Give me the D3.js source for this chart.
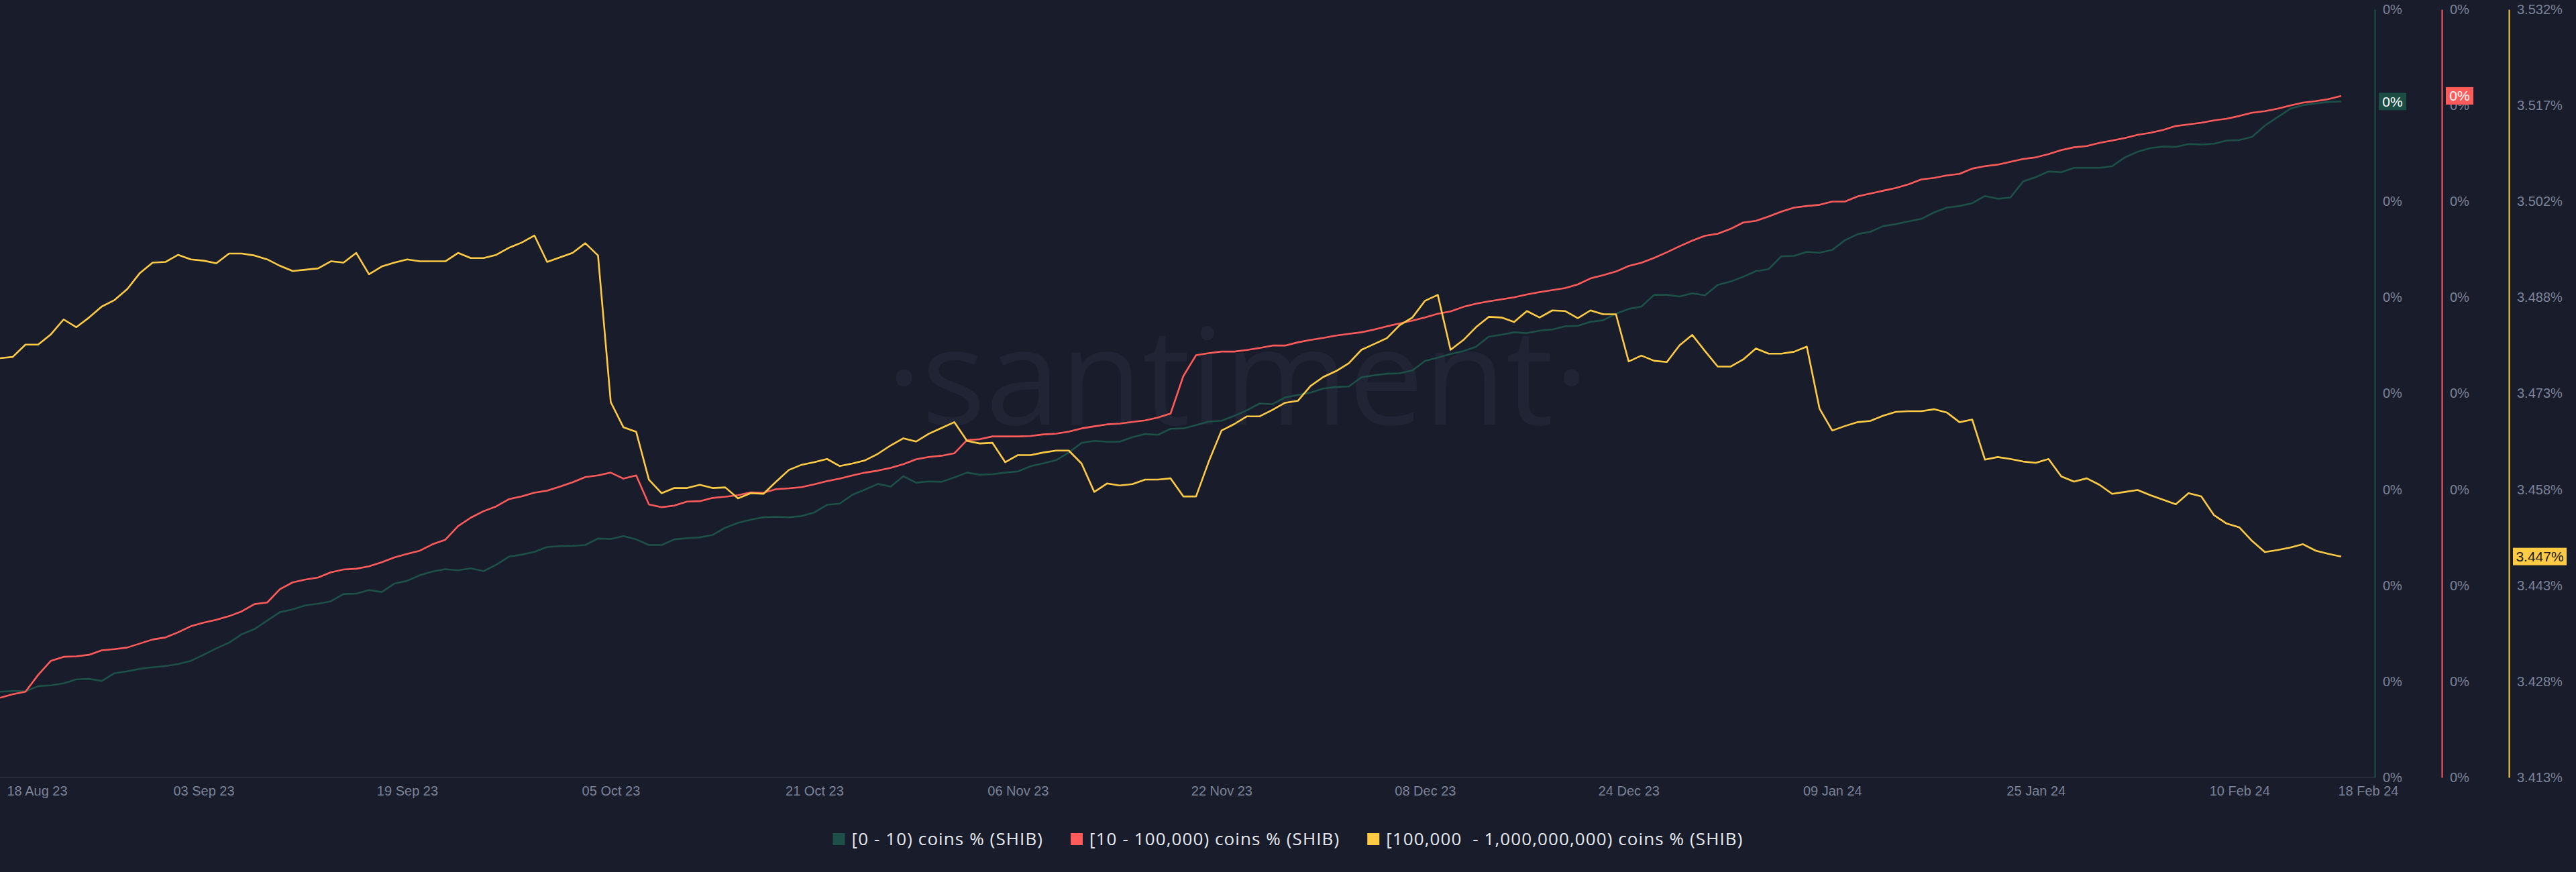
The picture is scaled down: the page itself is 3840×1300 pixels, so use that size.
<!DOCTYPE html>
<html><head><meta charset="utf-8">
<script src="https://cdn.jsdelivr.net/npm/d3@7"></script>
<style>
html,body{margin:0;padding:0;background:#191c2b;}
svg{display:block;}
</style></head><body>
<svg id="chart" width="3840" height="1300"></svg>
<script>
// ---------- DATA ----------
const startDay = "2023-08-18";
const endDay = "2024-02-18";

const seriesNames = [
  "[0 - 10) coins % (SHIB)",
  "[10 - 100,000) coins % (SHIB)",
  "[100,000  - 1,000,000,000) coins % (SHIB)"
];

// [100,000 - 1,000,000,000) coins % (SHIB), percent of supply, daily
const yellowVals = [
  3.4781,3.4783,3.4802,3.4802,3.4818,3.4841,3.4829,3.4844,3.4861,3.4871,
  3.4888,3.4913,3.4929,3.4930,3.4941,3.4934,3.4932,3.4928,3.4943,3.4943,
  3.4940,3.4934,3.4924,3.4916,3.4918,3.4920,3.4931,3.4929,3.4944,3.4911,
  3.4923,3.4929,3.4934,3.4931,3.4931,3.4931,3.4944,3.4936,3.4936,3.4941,
  3.4952,3.4960,3.4971,3.4930,3.4937,3.4944,3.4959,3.4940,3.4713,3.4674,
  3.4667,3.4593,3.4572,3.4580,3.4580,3.4585,3.4580,3.4581,3.4564,3.4572,
  3.4571,3.4590,3.4608,3.4616,3.4620,3.4625,3.4614,3.4618,3.4623,3.4633,
  3.4646,3.4657,3.4652,3.4664,3.4673,3.4682,3.4653,3.4649,3.4650,3.4620,
  3.4631,3.4631,3.4635,3.4638,3.4638,3.4618,3.4574,3.4587,3.4584,3.4586,
  3.4593,3.4593,3.4595,3.4567,3.4567,3.4621,3.4669,3.4679,3.4691,3.4691,
  3.4701,3.4712,3.4715,3.4738,3.4752,3.4761,3.4773,3.4794,3.4803,3.4812,
  3.4832,3.4844,3.4870,3.4879,3.4794,3.4809,3.4829,3.4845,3.4844,3.4837,
  3.4854,3.4844,3.4855,3.4854,3.4843,3.4855,3.4849,3.4849,3.4776,3.4785,
  3.4777,3.4775,3.4801,3.4817,3.4792,3.4768,3.4768,3.4779,3.4796,3.4788,
  3.4788,3.4791,3.4799,3.4703,3.4669,3.4676,3.4682,3.4684,3.4692,3.4698,
  3.4699,3.4699,3.4702,3.4697,3.4682,3.4686,3.4624,3.4628,3.4625,3.4621,
  3.4619,3.4625,3.4598,3.4590,3.4595,3.4585,3.4571,3.4574,3.4577,3.4569,
  3.4562,3.4555,3.4572,3.4567,3.4538,3.4525,3.4519,3.4498,3.4481,3.4484,
  3.4488,3.4493,3.4483,3.4478,3.4474
];

// [10 - 100,000) coins % (SHIB), in 1e-7 % units (axis rounds to 0%)
const redVals = [
  198,207,213,255,290,300,301,305,316,319,
  323,333,343,348,361,376,385,392,401,413,
  431,435,468,485,492,497,510,517,519,525,
  535,547,556,564,580,591,625,646,662,674,
  692,699,708,713,723,734,747,751,758,743,
  751,679,672,676,686,687,695,698,702,709,
  708,717,719,722,729,737,743,751,758,763,
  770,779,791,797,800,806,839,841,848,848,
  848,849,853,855,860,868,873,878,880,884,
  888,895,905,998,1050,1055,1059,1059,1063,1068,
  1074,1074,1082,1088,1093,1099,1103,1107,1114,1122,
  1129,1136,1144,1153,1159,1170,1178,1184,1189,1194,
  1201,1207,1212,1217,1226,1241,1249,1258,1272,1280,
  1292,1306,1321,1335,1347,1352,1364,1380,1384,1395,
  1407,1417,1421,1424,1432,1432,1445,1452,1459,1466,
  1475,1487,1491,1497,1501,1514,1520,1524,1531,1538,
  1542,1550,1560,1567,1570,1578,1584,1590,1598,1603,
  1610,1620,1624,1628,1634,1638,1645,1653,1657,1663,
  1671,1678,1682,1687,1695
];

// [0 - 10) coins % (SHIB), in 1e-7 % units (axis rounds to 0%)
const greenVals = [
  213,215,214,227,229,234,244,245,240,259,
  264,270,274,277,282,290,305,321,335,356,
  369,390,411,418,428,432,438,456,457,466,
  461,482,489,503,512,518,515,520,513,529,
  549,554,561,573,575,576,578,594,593,600,
  592,578,578,592,595,597,603,621,633,641,
  647,648,647,650,659,678,681,703,716,730,
  723,749,733,736,735,746,758,753,754,758,
  761,774,781,789,808,832,837,835,835,846,
  854,852,867,868,876,885,887,899,913,930,
  928,945,951,957,967,971,972,995,1000,1004,
  1005,1012,1036,1044,1053,1060,1071,1096,1101,1107,
  1105,1111,1114,1122,1123,1133,1137,1153,1165,1171,
  1200,1200,1196,1204,1199,1225,1233,1245,1259,1264,
  1296,1297,1307,1305,1312,1336,1351,1357,1371,1376,
  1383,1389,1405,1417,1421,1428,1446,1439,1442,1482,
  1493,1507,1505,1516,1516,1516,1520,1542,1556,1565,
  1569,1568,1575,1574,1576,1584,1585,1593,1621,1642,
  1663,1672,1676,1680,1681
];

const xTickLabels = ["18 Aug 23","03 Sep 23","19 Sep 23","05 Oct 23","21 Oct 23","06 Nov 23",
  "22 Nov 23","08 Dec 23","24 Dec 23","09 Jan 24","25 Jan 24","10 Feb 24","18 Feb 24"];
const yellowTickLabels = ["3.413%","3.428%","3.443%","3.458%","3.473%","3.488%","3.502%","3.517%","3.532%"];
const yellowDomain = [3.4132, 3.5321];
const smallDomain = [0, 1910];

// ---------- LAYOUT / STYLE ----------
const W = 3840, H = 1300;
const plotLeft = 0, plotRight = 3540, plotTop = 14, plotBottom = 1159;
const colors = {green: "#1d5048", red: "#ff5b5b", yellow: "#ffcb45"};
const bg = "#191c2b";
const tickColor = "#7b8398";

const svg = d3.select("#chart");
svg.append("rect").attr("width", W).attr("height", H).attr("fill", bg);

const parseDay = d3.utcParse("%Y-%m-%d");
const t0 = parseDay(startDay), t1 = parseDay(endDay);
const dates = d3.utcDay.range(t0, d3.utcDay.offset(t1, 1));

const x = d3.scaleUtc().domain([t0, t1]).range([plotLeft, 3490]);
const yY = d3.scaleLinear().domain(yellowDomain).range([plotBottom, plotTop]);
const yG = d3.scaleLinear().domain(smallDomain).range([plotBottom, plotTop]);
const yR = d3.scaleLinear().domain(smallDomain).range([plotBottom, plotTop]);

// watermark
svg.append("text")
  .attr("x", 1845).attr("y", 633)
  .attr("text-anchor", "middle")
  .attr("font-family", "Open Sans")
  .attr("font-size", 200)
  .attr("fill", "#202435")
  .text("·santiment·");

// bottom axis line
svg.append("line").attr("x1", plotLeft).attr("x2", plotRight)
  .attr("y1", plotBottom).attr("y2", plotBottom)
  .attr("stroke", "#262a3b").attr("stroke-width", 2);

// x axis labels
const parseTick = d3.utcParse("%d %b %y");
const xAxis = d3.axisBottom(x)
  .tickValues(xTickLabels.map(parseTick))
  .tickFormat((d, i) => xTickLabels[i])
  .tickSize(0).tickPadding(0);
const gx = svg.append("g").attr("transform", `translate(0,${plotBottom})`).call(xAxis);
gx.select(".domain").remove();
gx.selectAll("text")
  .attr("y", 20).attr("dy", "0.35em")
  .attr("font-family", "Liberation Sans, Arial, sans-serif")
  .attr("font-size", 20).attr("fill", tickColor);
gx.selectAll(".tick").filter((d, i) => i === 0).select("text")
  .attr("text-anchor", "start").attr("dx", 10);
gx.selectAll(".tick").filter((d, i) => i === xTickLabels.length - 1).select("text")
  .attr("text-anchor", "end").attr("dx", 85);

// right axes
function rightAxis(scale, xPos, color, tickVals, fmt) {
  const ax = d3.axisRight(scale).tickValues(tickVals).tickFormat(fmt)
    .tickSize(0).tickPadding(12).tickSizeOuter(0);
  const g = svg.append("g").attr("transform", `translate(${xPos},0)`).call(ax);
  g.select(".domain").attr("stroke", color).attr("stroke-width", 2);
  g.selectAll("text").attr("font-family", "Liberation Sans, Arial, sans-serif")
    .attr("font-size", 20).attr("fill", tickColor);
  return g;
}
const yTickVals = d3.range(9).map(i => yellowDomain[0] + i * (yellowDomain[1] - yellowDomain[0]) / 8);
const smallTickVals = d3.range(9).map(i => smallDomain[0] + i * (smallDomain[1] - smallDomain[0]) / 8);
const tinyPct = v => d3.format(".0%")(v * 1e-9);
rightAxis(yG, 3540, colors.green, smallTickVals, tinyPct);
rightAxis(yR, 3640, colors.red, smallTickVals, tinyPct);
rightAxis(yY, 3740, colors.yellow, yTickVals, (d, i) => yellowTickLabels[i]);

// lines
const plot = svg.append("g");
function drawLine(vals, scale, color) {
  const line = d3.line().x((d, i) => x(dates[i])).y(d => scale(d));
  plot.append("path").datum(vals).attr("d", line)
    .attr("fill", "none").attr("stroke", color)
    .attr("stroke-width", 2.6).attr("stroke-linejoin", "round");
}
drawLine(greenVals, yG, colors.green);
drawLine(redVals, yR, colors.red);
drawLine(yellowVals, yY, colors.yellow);

// last value badges
function badge(xPos, yPos, w, fill, txtColor, label) {
  const g = svg.append("g");
  g.append("rect").attr("x", xPos).attr("y", yPos - 13).attr("width", w).attr("height", 26).attr("fill", fill);
  g.append("text").attr("x", xPos + w / 2).attr("y", yPos).attr("dy", "0.35em")
    .attr("text-anchor", "middle").attr("font-family", "Liberation Sans, Arial, sans-serif")
    .attr("font-size", 21).attr("fill", txtColor).text(label);
}
badge(3546, yG(greenVals[greenVals.length - 1]), 41, "#1b4d45", "#ffffff", tinyPct(greenVals[greenVals.length - 1]));
badge(3646, yR(redVals[redVals.length - 1]), 41, colors.red, "#ffffff", tinyPct(redVals[redVals.length - 1]));
badge(3746, yY(yellowVals[yellowVals.length - 1]), 80, colors.yellow, "#1a1a1a",
  d3.format(".3f")(yellowVals[yellowVals.length - 1]) + "%");

// legend
const legColors = [colors.green, colors.red, colors.yellow];
const leg = svg.append("g");
const items = [];
seriesNames.forEach((name, i) => {
  const g = leg.append("g");
  g.append("rect").attr("x", 0).attr("y", -9).attr("width", 18).attr("height", 18).attr("fill", legColors[i]);
  const t = g.append("text").attr("x", 28).attr("y", 0).attr("dy", "0.35em")
    .attr("font-family", "Open Sans").attr("font-size", 26)
    .attr("letter-spacing", 1.1)
    .attr("fill", "#e6e8ee").style("white-space", "pre").text(name);
  const w = 28 + t.node().getComputedTextLength();
  items.push({g, w});
});
const gap = 41;
const total = d3.sum(items, d => d.w) + gap * (items.length - 1);
let pos = W / 2 - total / 2;
items.forEach(it => { it.g.attr("transform", `translate(${pos},1251)`); pos += it.w + gap; });
</script>
</body></html>
